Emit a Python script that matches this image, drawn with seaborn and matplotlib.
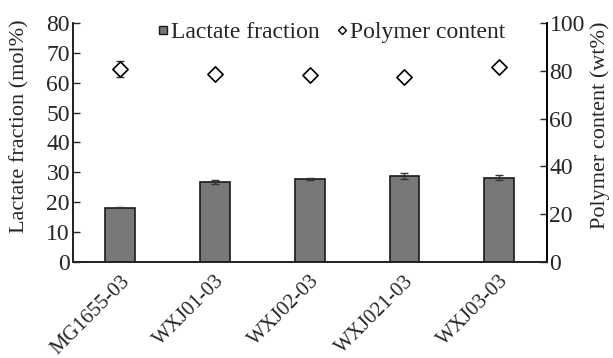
import matplotlib
matplotlib.use("Agg")
import matplotlib.pyplot as plt
import seaborn as sns
import pandas as pd
import numpy as np
from matplotlib.lines import Line2D

strains = ["MG1655-03", "WXJ01-03", "WXJ02-03", "WXJ021-03", "WXJ03-03"]
lactate = [18.2, 26.8, 27.9, 28.7, 28.2]
lactate_err = [0.2, 0.6, 0.3, 1.0, 0.8]
polymer = [80.6, 78.5, 78.2, 77.5, 81.5]
polymer_err = [3.3, 0.0, 0.0, 0.0, 0.0]

sns.set_theme(style="white")
plt.rcParams['font.family'] = ['Liberation Serif', 'DejaVu Serif']
plt.rcParams['mathtext.fontset'] = 'stix'
FS = 17

df = pd.DataFrame({"strain": strains, "lactate": lactate, "polymer": polymer})

fig = plt.figure(figsize=(6.13, 3.58), dpi=100)
ax = fig.add_axes([0.1186, 0.268, 0.7732, 0.668])
sns.barplot(data=df, x="strain", y="lactate", color="#787878", width=0.316,
            edgecolor="#1a1a1a", linewidth=1.2, saturation=1, ax=ax)
ax.errorbar(range(len(strains)), lactate, yerr=lactate_err, fmt="none",
            ecolor="#333333", elinewidth=1, capsize=3, capthick=1)
ax.set_ylim(0, 80)
ax.set_xlim(-0.5, 4.5)
ax.set_yticks(range(0, 81, 10))
ax.set_xlabel("")
ax.set_ylabel("Lactate fraction (mol%)", fontsize=16)
ax.yaxis.set_label_coords(-0.092, 0.57)
ax.tick_params(axis="y", direction="in", length=5, width=1, labelsize=FS, pad=2, left=True)
ax.tick_params(axis="x", length=0, labelsize=15, pad=7)
plt.setp(ax.get_xticklabels(), rotation=45, ha="right", rotation_mode="anchor")
for s in ["left", "bottom", "right"]:
    ax.spines[s].set_color("black")
    ax.spines[s].set_linewidth(1.2)
ax.spines["top"].set_visible(False)

ax2 = ax.twinx()
sns.scatterplot(data=df, x="strain", y="polymer", marker="D", s=60,
                facecolor="white", edgecolor="black", linewidth=1.2, ax=ax2, zorder=3)
ax2.errorbar(range(len(strains)), polymer, yerr=polymer_err, fmt="none",
             ecolor="#333333", elinewidth=1, capsize=3, capthick=1, zorder=2)
ax2.set_ylim(0, 100)
ax2.set_yticks(range(0, 101, 20))
ax2.set_ylabel("Polymer content (wt%)", fontsize=16)
ax2.yaxis.set_label_coords(1.093, 0.57)
ax2.tick_params(axis="y", direction="in", length=5, width=1, labelsize=FS, pad=2, right=True)
ax2.spines["top"].set_visible(False)
ax2.spines["right"].set_color("black")
ax2.spines["right"].set_linewidth(1.2)
ax2.set_xlabel("")

handles = [Line2D([], [], marker="s", linestyle="none", markersize=6,
                  markerfacecolor="#787878", markeredgecolor="#1a1a1a"),
           Line2D([], [], marker="D", linestyle="none", markersize=4.5,
                  markerfacecolor="white", markeredgecolor="black")]
ax2.legend(handles, ["Lactate fraction", "Polymer content"], ncol=2, frameon=False,
           loc="upper center", bbox_to_anchor=(0.545, 1.095), fontsize=FS,
           handlelength=0.5, handletextpad=0.1, columnspacing=0.7)

fig.savefig("out.png", dpi=100)
